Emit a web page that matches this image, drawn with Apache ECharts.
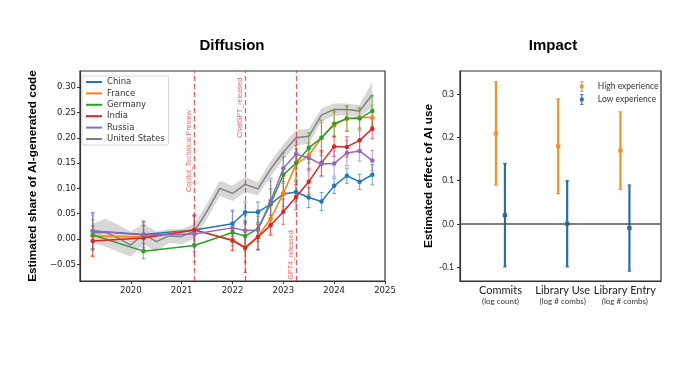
<!DOCTYPE html>
<html>
<head>
<meta charset="utf-8">
<script src="https://cdn.jsdelivr.net/npm/echarts@6/dist/echarts.min.js"></script>
<style>html,body{margin:0;padding:0;background:#fff}#c{width:700px;height:367px}</style>
</head>
<body>
<div id="c"></div>
<script>
// ---------- Diffusion data ----------
const quarters = [2019.25, 2020.25, 2021.25, 2022.0, 2022.25, 2022.5, 2022.75, 2023.0, 2023.25, 2023.5, 2023.75, 2024.0, 2024.25, 2024.5, 2024.75];
const countryNames = ['China', 'France', 'Germany', 'India', 'Russia'];
const chinaVals   = [0.016, 0.009, 0.018, 0.030, 0.053, 0.053, 0.069, 0.089, 0.093, 0.082, 0.074, 0.105, 0.125, 0.113, 0.127];
const franceVals  = [0.006, 0.004, 0.018, -0.002, -0.016, 0.005, 0.040, 0.090, 0.148, 0.165, 0.200, 0.225, 0.238, 0.240, 0.240];
const germanyVals = [0.008, -0.024, -0.013, 0.013, 0.006, 0.020, 0.070, 0.127, 0.150, 0.180, 0.200, 0.228, 0.238, 0.238, 0.253];
const indiaVals   = [-0.004, 0.002, 0.018, -0.003, -0.018, 0.004, 0.027, 0.054, 0.083, 0.113, 0.150, 0.183, 0.182, 0.195, 0.218];
const russiaVals  = [0.016, 0.008, 0.010, 0.022, 0.017, 0.018, 0.075, 0.140, 0.168, 0.160, 0.148, 0.149, 0.170, 0.174, 0.155];
const chinaErr    = [0.035, 0.025, 0.030, 0.025, 0.020, 0.020, 0.030, 0.025, 0.020, 0.020, 0.018, 0.015, 0.015, 0.015, 0.020];
const franceErr   = [0.040, 0.028, 0.030, 0.020, 0.030, 0.025, 0.030, 0.030, 0.030, 0.025, 0.030, 0.025, 0.025, 0.020, 0.025];
const germanyErr  = [0.030, 0.015, 0.032, 0.020, 0.030, 0.025, 0.045, 0.035, 0.035, 0.030, 0.035, 0.025, 0.025, 0.020, 0.030];
const indiaErr    = [0.030, 0.025, 0.028, 0.020, 0.048, 0.025, 0.020, 0.025, 0.025, 0.025, 0.025, 0.020, 0.020, 0.020, 0.020];
const russiaErr   = [0.037, 0.028, 0.035, 0.035, 0.030, 0.040, 0.045, 0.030, 0.030, 0.025, 0.025, 0.025, 0.025, 0.020, 0.020];

const usQuarters = [2019.25, 2019.5, 2019.75, 2020.0, 2020.25, 2020.5, 2020.75, 2021.0, 2021.25, 2021.5, 2021.75, 2022.0, 2022.25, 2022.5, 2022.75, 2023.0, 2023.25, 2023.5, 2023.75, 2024.0, 2024.25, 2024.5, 2024.75];
const usVals  = [0.012, 0.013, 0.002, -0.012, 0.010, -0.005, 0.006, 0.005, 0.015, 0.055, 0.100, 0.090, 0.108, 0.099, 0.138, 0.172, 0.200, 0.203, 0.245, 0.256, 0.256, 0.253, 0.285];
const usLow   = [-0.008, -0.015, -0.025, -0.035, -0.010, -0.025, -0.008, -0.010, 0.000, 0.040, 0.085, 0.075, 0.093, 0.086, 0.123, 0.157, 0.185, 0.188, 0.232, 0.244, 0.244, 0.241, 0.260];
const usHigh  = [0.030, 0.040, 0.028, 0.015, 0.030, 0.015, 0.020, 0.020, 0.030, 0.070, 0.115, 0.105, 0.123, 0.112, 0.153, 0.187, 0.215, 0.218, 0.258, 0.268, 0.268, 0.265, 0.310];

const eventX     = [2021.25, 2022.25, 2023.25];
const eventTextY = [0.093, 0.200, -0.080];
const eventNames = ['Copilot_Technical Preview', 'ChatGPT_released', 'GPT4_released'];
const diffYTicks = [-0.05, 0, 0.05, 0.10, 0.15, 0.20, 0.25, 0.30];
const diffXTicks = [2020, 2021, 2022, 2023, 2024, 2025];

// ---------- Impact data ----------
const impactCats = ['Commits', 'Library Use', 'Library Entry'];
const impactSubs = ['(log count)', '(log # combs)', '(log # combs)'];
const highEst = [0.21, 0.18, 0.17];
const highLo  = [0.09, 0.07, 0.08];
const highHi  = [0.33, 0.29, 0.26];
const lowEst  = [0.02, 0.00, -0.01];
const lowLo   = [-0.10, -0.10, -0.11];
const lowHi   = [0.14, 0.10, 0.09];
const impactYTicks = [-0.1, 0, 0.1, 0.2, 0.3];

// ---------- helpers ----------
const colors = {China:'#1f77b4', France:'#ff7f0e', Germany:'#2ca02c', India:'#d62728', Russia:'#9467bd', 'United States':'#7f7f7f'};
const countryVals = [chinaVals, franceVals, germanyVals, indiaVals, russiaVals];
const countryErr  = [chinaErr, franceErr, germanyErr, indiaErr, russiaErr];

function errBarRender(color, width, cap, opacity) {
  return function (params, api) {
    const x = api.value(0), lo = api.value(1), hi = api.value(2);
    const p1 = api.coord([x, lo]), p2 = api.coord([x, hi]);
    const st = {stroke: color, lineWidth: width, opacity: opacity};
    return {type: 'group', children: [
      {type: 'line', shape: {x1: p1[0], y1: p1[1], x2: p2[0], y2: p2[1]}, style: st},
      {type: 'line', shape: {x1: p1[0]-cap, y1: p1[1], x2: p1[0]+cap, y2: p1[1]}, style: st},
      {type: 'line', shape: {x1: p2[0]-cap, y1: p2[1], x2: p2[0]+cap, y2: p2[1]}, style: st}
    ]};
  };
}

const series = [];
// US confidence band
series.push({
  type: 'custom', xAxisIndex: 0, yAxisIndex: 0, z: 1, silent: true,
  data: usQuarters.map((x, i) => [x, usLow[i], usHigh[i]]),
  encode: {x: 0, y: [1, 2]},
  renderItem: function (params, api) {
    if (params.dataIndex !== 0) return null;
    const pts = [];
    for (let i = 0; i < usQuarters.length; i++) pts.push(api.coord([usQuarters[i], usHigh[i]]));
    for (let i = usQuarters.length - 1; i >= 0; i--) pts.push(api.coord([usQuarters[i], usLow[i]]));
    return {type: 'polygon', shape: {points: pts}, style: {fill: 'rgba(150,150,150,0.38)'}};
  }
});
// Event lines + labels
series.push({
  type: 'custom', xAxisIndex: 0, yAxisIndex: 0, z: 2, silent: true,
  data: eventX.map((x, i) => [x, eventTextY[i], eventNames[i]]),
  encode: {x: 0, y: 1},
  renderItem: function (params, api) {
    const p = api.coord([api.value(0), api.value(1)]);
    return {type: 'text', x: p[0] - 1.5, y: p[1], rotation: Math.PI / 2,
      style: {text: eventNames[params.dataIndex], fill: 'rgba(214,39,40,0.72)', font: '7px "Liberation Sans"', align: 'left', verticalAlign: 'bottom'}};
  },
  markLine: {
    silent: true, symbol: 'none', label: {show: false},
    lineStyle: {color: 'rgba(214,39,40,0.75)', type: [5, 3], width: 1.2},
    data: eventX.map(x => ({xAxis: x}))
  }
});
// US line
series.push({
  name: 'United States', type: 'line', xAxisIndex: 0, yAxisIndex: 0, z: 3,
  data: usQuarters.map((x, i) => [x, usVals[i]]),
  showSymbol: false, symbol: 'none',
  lineStyle: {color: colors['United States'], width: 1.4}, itemStyle: {color: colors['United States']}
});
// Country error bars and lines
countryNames.forEach((name, k) => {
  series.push({
    type: 'custom', xAxisIndex: 0, yAxisIndex: 0, z: 4, silent: true,
    data: quarters.map((x, i) => [x, countryVals[k][i] - countryErr[k][i], countryVals[k][i] + countryErr[k][i]]),
    encode: {x: 0, y: [1, 2]},
    renderItem: errBarRender(colors[name], 1.2, 2, 0.55)
  });
});
countryNames.forEach((name, k) => {
  series.push({
    name: name, type: 'line', xAxisIndex: 0, yAxisIndex: 0, z: 5,
    data: quarters.map((x, i) => [x, countryVals[k][i]]),
    symbol: 'circle', symbolSize: 4.5,
    lineStyle: {color: colors[name], width: 1.5}, itemStyle: {color: colors[name]}
  });
});

// Impact
function impactRender(color, dx) {
  return function (params, api) {
    const x = api.value(0), est = api.value(1), lo = api.value(2), hi = api.value(3);
    const p0 = api.coord([x, est]), p1 = api.coord([x, lo]), p2 = api.coord([x, hi]);
    const st = {stroke: color, lineWidth: 2.2};
    const cx = p0[0] + dx;
    return {type: 'group', children: [
      {type: 'line', shape: {x1: cx, y1: p1[1], x2: cx, y2: p2[1]}, style: st},
      {type: 'line', shape: {x1: cx-1.8, y1: p1[1], x2: cx+1.8, y2: p1[1]}, style: {stroke: color, lineWidth: 1.2}},
      {type: 'line', shape: {x1: cx-1.8, y1: p2[1], x2: cx+1.8, y2: p2[1]}, style: {stroke: color, lineWidth: 1.2}},
      {type: 'rect', shape: {x: cx-2.2, y: p0[1]-2, width: 4.4, height: 4}, style: {fill: color}}
    ]};
  };
}
const errIcon = 'path://M4.4,0h1.2v12h-1.2z M3,0h4v0.8h-4z M3,11.2h4v0.8h-4z M3,4h4v4h-4z';
series.push({
  name: 'High experience', type: 'custom', xAxisIndex: 1, yAxisIndex: 1, z: 3,
  itemStyle: {color: '#f28e2b'},
  data: impactCats.map((c, i) => [i, highEst[i], highLo[i], highHi[i]]),
  encode: {x: 0, y: [1, 2, 3]},
  renderItem: impactRender('#f0922e', -4.5),
  markLine: {silent: true, symbol: 'none', label: {show: false}, lineStyle: {color: '#555', type: 'solid', width: 1.5}, data: [{yAxis: 0}]}
});
series.push({
  name: 'Low experience', type: 'custom', xAxisIndex: 1, yAxisIndex: 1, z: 3,
  itemStyle: {color: '#2a6f9e'},
  data: impactCats.map((c, i) => [i, lowEst[i], lowLo[i], lowHi[i]]),
  encode: {x: 0, y: [1, 2, 3]},
  renderItem: impactRender('#2b6e9c', 4.5)
});

const frame = {show: true, borderColor: '#333', borderWidth: 1.2, backgroundColor: '#fff'};
const axisLineStyle = {show: true, onZero: false, lineStyle: {color: '#333', width: 1.2}};
const nameFont = {fontFamily: '"Liberation Sans"', fontWeight: 'bold', fontSize: 11.8, color: '#000'};
const option = {
  animation: false,
  backgroundColor: '#fff',
  graphic: [
    {type: 'text', x: 232, y: 46, style: {text: 'Diffusion', font: 'bold 15px "Liberation Sans"', fill: '#000', align: 'center', verticalAlign: 'middle'}},
    {type: 'text', x: 553, y: 46, style: {text: 'Impact', font: 'bold 15px "Liberation Sans"', fill: '#000', align: 'center', verticalAlign: 'middle'}}
  ],
  grid: [
    Object.assign({left: 80, top: 71, width: 305, height: 210}, frame),
    Object.assign({left: 460, top: 71, width: 201, height: 210}, frame)
  ],
  legend: [
    {
      left: 82, top: 76, orient: 'vertical', itemWidth: 16, itemHeight: 2, itemGap: 1.4,
      icon: 'rect', padding: [1, 4, 1, 4],
      borderColor: '#d8d8d8', borderWidth: 1, borderRadius: 2, backgroundColor: 'rgba(255,255,255,0.85)',
      textStyle: {fontFamily: 'DejaVu Sans', fontSize: 8.5, color: '#333', lineHeight: 10},
      data: ['China', 'France', 'Germany', 'India', 'Russia', 'United States']
    },
    {
      left: 575, top: 76, orient: 'vertical', itemWidth: 6, itemHeight: 11, itemGap: 2,
      icon: errIcon,
      textStyle: {fontFamily: 'Lato', fontSize: 8.5, color: '#333', padding: [0, 0, 0, 8]},
      data: ['High experience', 'Low experience']
    }
  ],
  xAxis: [
    {
      gridIndex: 0, type: 'value', min: 2019, max: 2025,
      axisLine: axisLineStyle,
      axisTick: {show: true, length: 3, lineStyle: {color: '#333'}, customValues: diffXTicks},
      axisLabel: {customValues: diffXTicks, margin: 5, fontFamily: 'DejaVu Sans', fontSize: 8.5, color: '#222', formatter: v => String(Math.round(v))},
      splitLine: {show: false}
    },
    {
      gridIndex: 1, type: 'value', min: -0.65, max: 2.58,
      axisLine: axisLineStyle,
      axisTick: {show: false, customValues: [0, 1, 2]},
      axisLabel: {
        customValues: [0, 1, 2], margin: 4,
        formatter: v => '{a|' + impactCats[Math.round(v)] + '}\n{b|' + impactSubs[Math.round(v)] + '}',
        rich: {
          a: {fontFamily: 'Lato', fontSize: 11, color: '#222', lineHeight: 11},
          b: {fontFamily: 'Lato', fontSize: 8, color: '#333', lineHeight: 10}
        }
      },
      splitLine: {show: false}
    }
  ],
  yAxis: [
    {
      gridIndex: 0, type: 'value', min: -0.083, max: 0.332,
      name: 'Estimated share of AI-generated code', nameLocation: 'middle', nameGap: 41,
      nameTextStyle: nameFont,
      axisLine: axisLineStyle,
      axisTick: {show: true, length: 3, lineStyle: {color: '#333'}, customValues: diffYTicks},
      axisLabel: {customValues: diffYTicks, margin: 4, fontFamily: 'DejaVu Sans', fontSize: 8.5, color: '#222',
        formatter: v => (v < -1e-9 ? '\u2212' : '') + Math.abs(v).toFixed(2)},
      splitLine: {show: false}
    },
    {
      gridIndex: 1, type: 'value', min: -0.133, max: 0.355,
      name: 'Estimated effect of AI use', nameLocation: 'middle', nameGap: 25,
      nameTextStyle: nameFont,
      axisLine: axisLineStyle,
      axisTick: {show: true, length: 3, lineStyle: {color: '#333'}, customValues: impactYTicks},
      axisLabel: {customValues: impactYTicks, margin: 6, fontFamily: 'Lato', fontSize: 8.5, color: '#222',
        formatter: v => (Math.abs(v) < 1e-9 ? '0.0' : v.toFixed(1))},
      splitLine: {show: false}
    }
  ],
  series: series
};
const chart = echarts.init(document.getElementById('c'), null, {renderer: 'canvas'});
chart.setOption(option);
</script>
</body>
</html>
